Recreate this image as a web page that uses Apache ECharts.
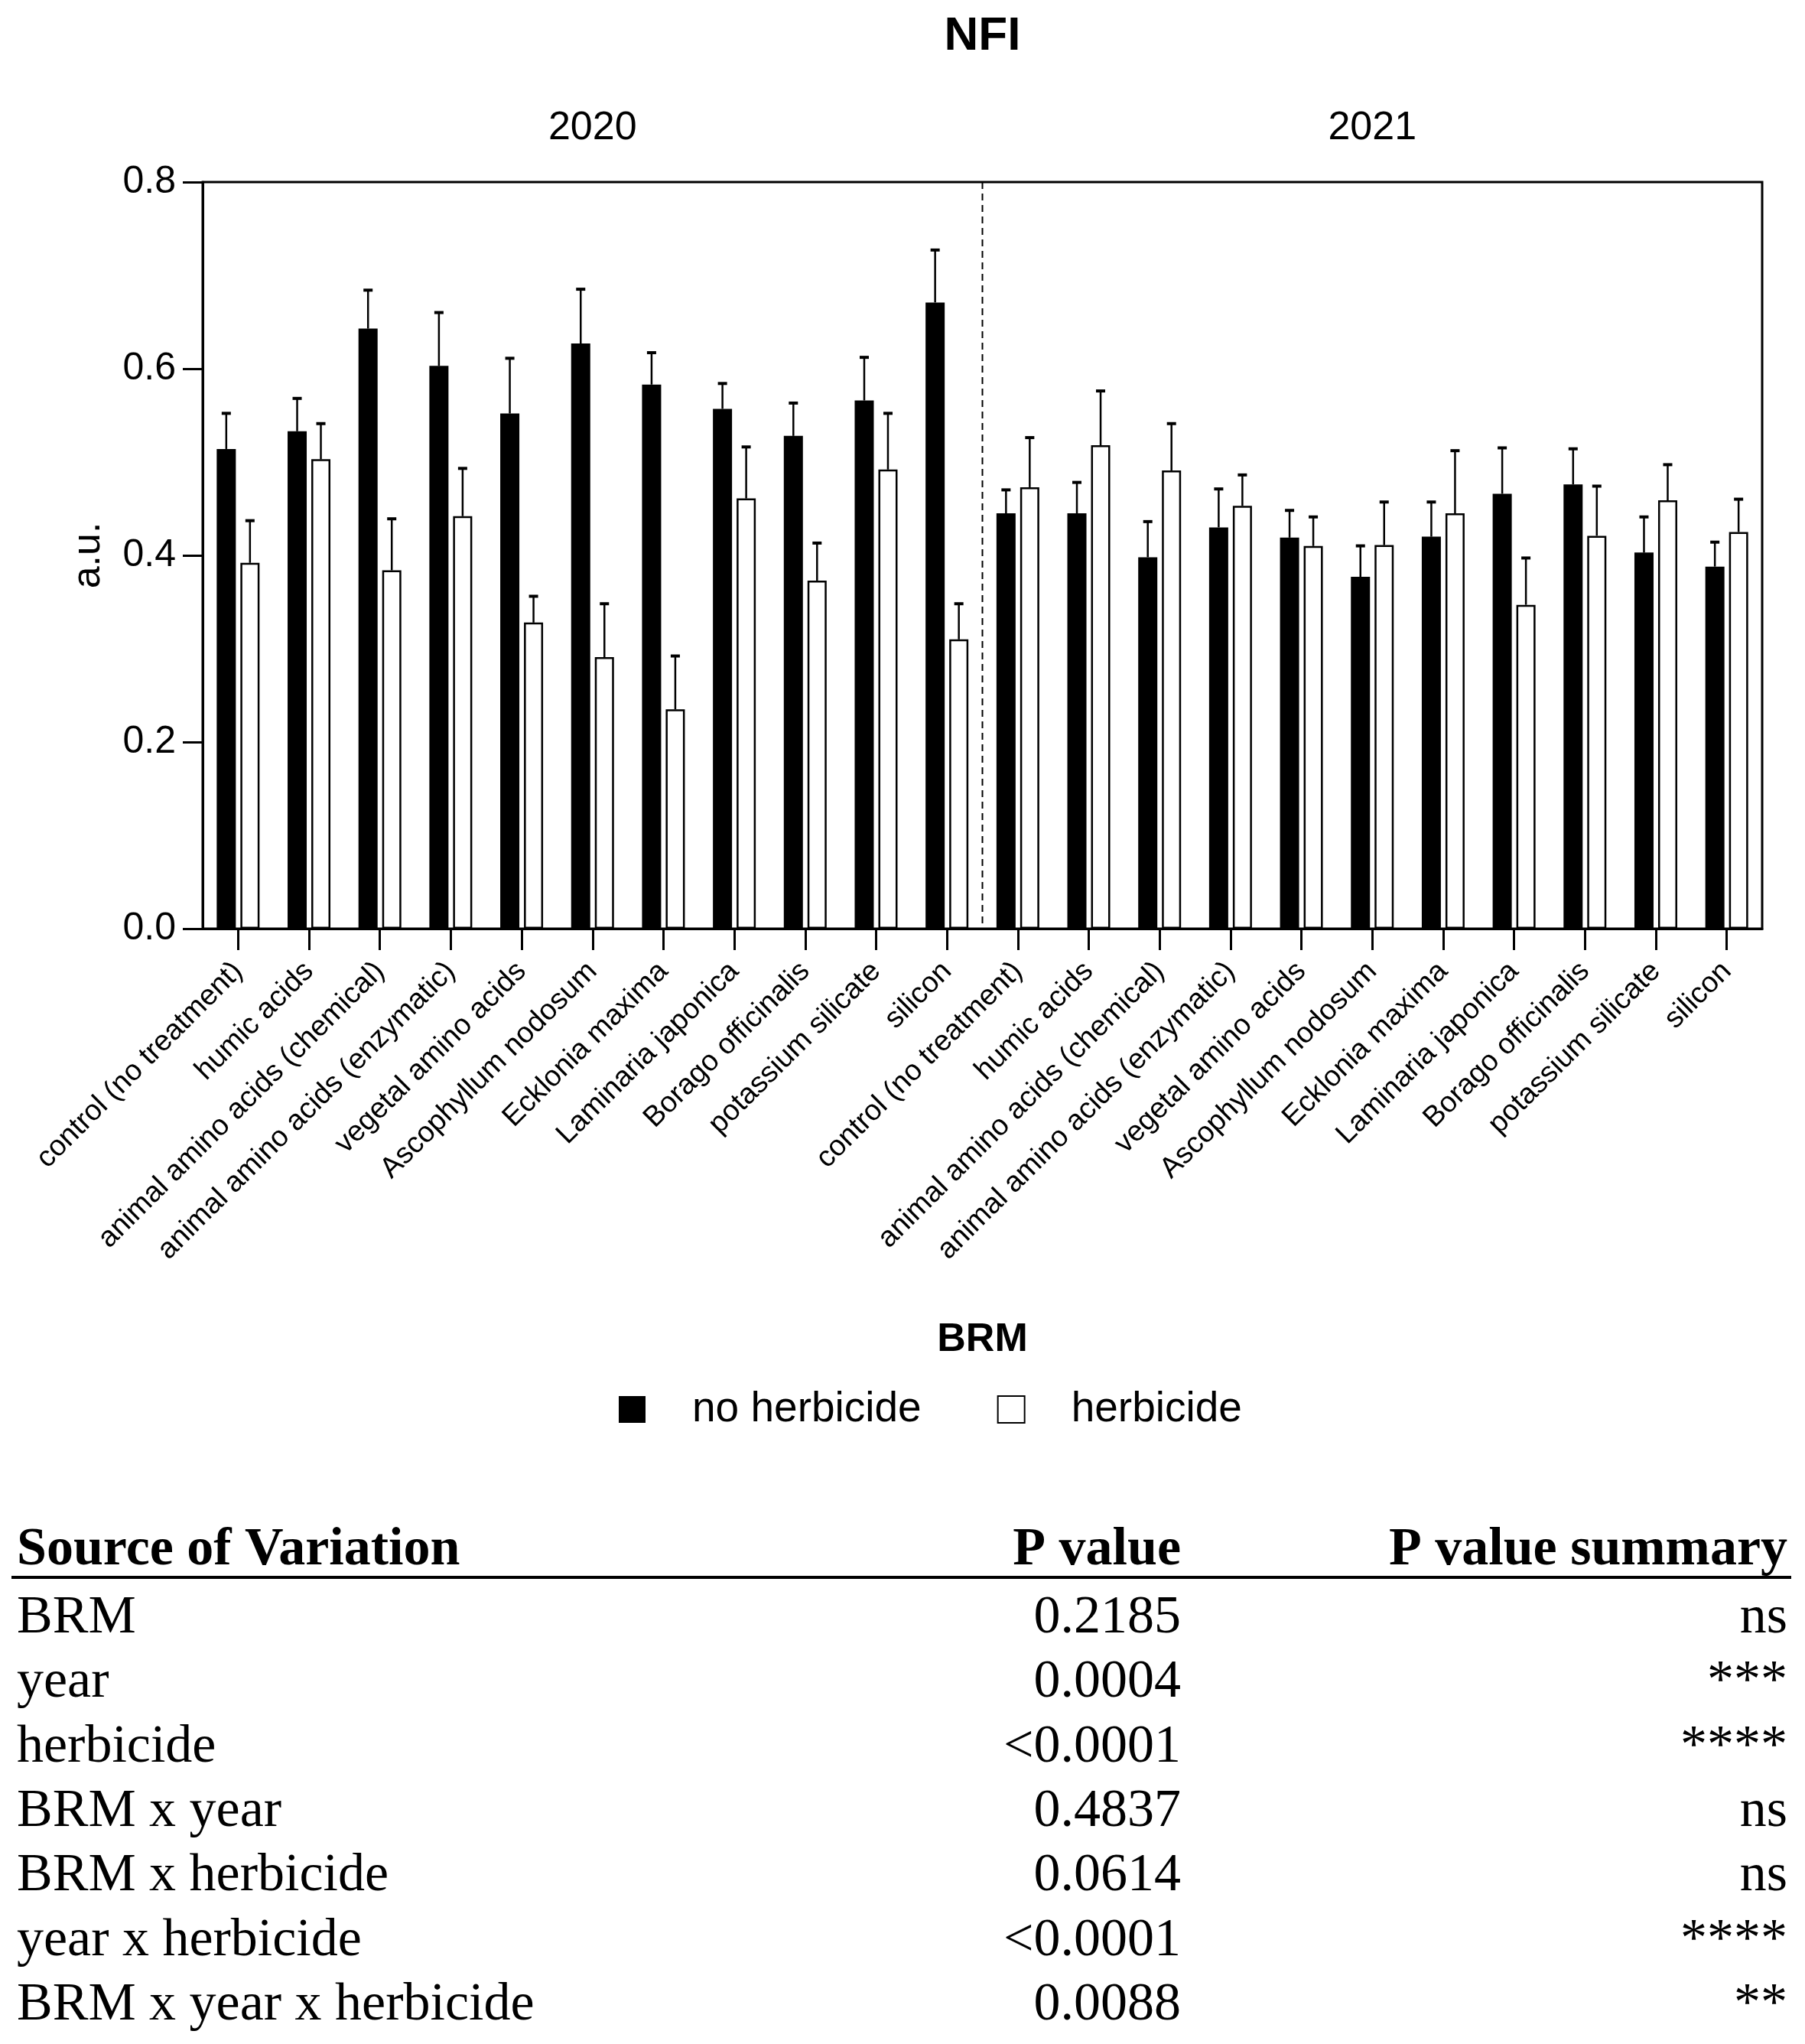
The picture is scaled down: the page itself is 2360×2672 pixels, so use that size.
<!DOCTYPE html>
<html>
<head>
<meta charset="utf-8">
<script src="https://cdn.jsdelivr.net/npm/echarts@6/dist/echarts.min.js"></script>
<style>
html,body{margin:0;padding:0;background:#fff;}
#chart{width:2360px;height:2672px;}
</style>
</head>
<body>
<div id="chart"></div>
<script>
// ---------------- data ----------------
const treatments = ['control (no treatment)', 'humic acids', 'animal amino acids (chemical)',
  'animal amino acids (enzymatic)', 'vegetal amino acids', 'Ascophyllum nodosum', 'Ecklonia maxima',
  'Laminaria japonica', 'Borago officinalis', 'potassium silicate', 'silicon'];
const years = ['2020', '2021'];

const noHerb2020    = [0.514, 0.533, 0.643, 0.603, 0.552, 0.627, 0.583, 0.557, 0.528, 0.566, 0.671];
const noHerbErr2020 = [0.039, 0.036, 0.042, 0.058, 0.060, 0.059, 0.035, 0.028, 0.036, 0.047, 0.057];
const herb2020      = [0.392, 0.503, 0.384, 0.442, 0.328, 0.291, 0.235, 0.461, 0.373, 0.492, 0.310];
const herbErr2020   = [0.046, 0.039, 0.056, 0.052, 0.029, 0.058, 0.058, 0.056, 0.041, 0.061, 0.039];

const noHerb2021    = [0.445, 0.445, 0.398, 0.430, 0.419, 0.377, 0.420, 0.466, 0.476, 0.403, 0.388];
const noHerbErr2021 = [0.026, 0.034, 0.039, 0.042, 0.030, 0.034, 0.038, 0.050, 0.039, 0.039, 0.027];
const herb2021      = [0.473, 0.518, 0.491, 0.453, 0.410, 0.411, 0.445, 0.347, 0.421, 0.459, 0.425];
const herbErr2021   = [0.054, 0.059, 0.051, 0.034, 0.032, 0.047, 0.068, 0.051, 0.054, 0.039, 0.036];

const yMin = 0, yMax = 0.8, yInterval = 0.2;

const tableHeader = ['Source of Variation', 'P value', 'P value summary'];
const sources   = ['BRM', 'year', 'herbicide', 'BRM x year', 'BRM x herbicide', 'year x herbicide', 'BRM x year x herbicide'];
const pValues   = ['0.2185', '0.0004', '<0.0001', '0.4837', '0.0614', '<0.0001', '0.0088'];
const summaries = ['ns', '***', '****', 'ns', 'ns', '****', '**'];

// ---------------- layout / style ----------------
const W = 2360, H = 2672;
const GRID_L = 265, GRID_R_X = 2304, GRID_T = 238, GRID_B_Y = 1214;
const BAR_W = 25, BAR_GAP = 0.24;
const HALF_OFF = (BAR_W + BAR_W * BAR_GAP) / 2;
const SANS = 'Liberation Sans';
const SERIF = 'Liberation Serif';

const catKeys = [];
years.forEach(y => treatments.forEach(t => catKeys.push(y + '|' + t)));

const noHerb = noHerb2020.concat(noHerb2021);
const noHerbErr = noHerbErr2020.concat(noHerbErr2021);
const herb = herb2020.concat(herb2021);
const herbErr = herbErr2020.concat(herbErr2021);

function errData(means, errs) { return means.map((m, i) => [i, m, errs[i]]); }

function errRender(offset) {
  return function (params, api) {
    const x = api.value(0), m = api.value(1), e = api.value(2);
    const b = api.coord([x, m]);
    const t = api.coord([x, m + e]);
    const cx = b[0] + offset;
    return {
      type: 'group',
      children: [
        { type: 'line', shape: { x1: cx, y1: b[1], x2: cx, y2: t[1] }, style: { stroke: '#000', lineWidth: 2.5 } },
        { type: 'rect', shape: { x: cx - 6, y: t[1] - 1, width: 12, height: 4 }, style: { fill: '#000' } }
      ]
    };
  };
}

const centerX = (GRID_L + GRID_R_X) / 2;

// table graphics
const tableEls = [];
const HEAD_BASE = 2051, ROW0_BASE = 2139, ROW_H = 84.4, TFONT = 70;
const MID = 0.3375 * TFONT;
const COL0 = 22, COL1 = 1544, COL2 = 2337;
[[tableHeader[0], COL0, 'left'], [tableHeader[1], COL1, 'right'], [tableHeader[2], COL2, 'right']].forEach(h => {
  tableEls.push({ type: 'text', x: h[1], y: HEAD_BASE - MID, style: { text: h[0], align: h[2], verticalAlign: 'middle', font: 'bold ' + TFONT + 'px "' + SERIF + '"', fill: '#000' } });
});
tableEls.push({ type: 'rect', shape: { x: 15, y: 2060, width: 2327, height: 4 }, style: { fill: '#000' } });
sources.forEach((s, i) => {
  const y = ROW0_BASE + i * ROW_H - MID;
  tableEls.push({ type: 'text', x: COL0, y: y, style: { text: s, align: 'left', verticalAlign: 'middle', font: TFONT + 'px "' + SERIF + '"', fill: '#000' } });
  tableEls.push({ type: 'text', x: COL1, y: y, style: { text: pValues[i], align: 'right', verticalAlign: 'middle', font: TFONT + 'px "' + SERIF + '"', fill: '#000' } });
  tableEls.push({ type: 'text', x: COL2, y: y, style: { text: summaries[i], align: 'right', verticalAlign: 'middle', font: TFONT + 'px "' + SERIF + '"', fill: '#000' } });
});

const chart = echarts.init(document.getElementById('chart'), null, { renderer: 'canvas', width: W, height: H });

const option = {
  backgroundColor: '#fff',
  animation: false,
  title: [
    { text: 'NFI', left: centerX, top: 17, textAlign: 'center',
      textStyle: { fontFamily: SANS, fontWeight: 'bold', fontSize: 62, color: '#000' }, padding: 0 },
    { text: 'BRM', left: centerX, top: 1726, textAlign: 'center',
      textStyle: { fontFamily: SANS, fontWeight: 'bold', fontSize: 52, color: '#000' }, padding: 0 }
  ],
  legend: {
    data: ['no herbicide', 'herbicide'],
    left: 809, top: 1815, padding: 0,
    itemWidth: 35, itemHeight: 35, itemGap: 99,
    icon: 'rect', selectedMode: false,
    textStyle: { fontFamily: SANS, fontSize: 55, color: '#000', padding: [0, 0, 0, 56] }
  },
  grid: {
    left: GRID_L, right: W - GRID_R_X, top: GRID_T, bottom: H - GRID_B_Y,
    show: true, borderColor: '#000', borderWidth: 3, backgroundColor: 'transparent'
  },
  xAxis: [
    {
      type: 'category', data: catKeys, position: 'bottom',
      axisLine: { show: true, lineStyle: { color: '#000', width: 3 } },
      axisTick: { show: true, alignWithLabel: true, length: 28, lineStyle: { color: '#000', width: 3 } },
      axisLabel: { interval: 0, rotate: 45, margin: 50, fontFamily: SANS, fontSize: 38, color: '#000',
        formatter: v => v.split('|')[1] },
      splitLine: { show: false }
    },
    {
      type: 'category', data: years, position: 'top',
      axisLine: { show: false }, axisTick: { show: false },
      axisLabel: { margin: 44, fontFamily: SANS, fontSize: 52, color: '#000' }
    }
  ],
  yAxis: {
    type: 'value', min: yMin, max: yMax, interval: yInterval,
    name: 'a.u.', nameLocation: 'middle', nameGap: 123, nameRotate: 90,
    nameTextStyle: { fontFamily: SANS, fontSize: 52, color: '#000' },
    axisLine: { show: true, lineStyle: { color: '#000', width: 3 } },
    axisTick: { show: true, length: 26, lineStyle: { color: '#000', width: 3 } },
    axisLabel: { margin: 35, fontFamily: SANS, fontSize: 50, color: '#000', formatter: v => v.toFixed(1) },
    splitLine: { show: false }
  },
  series: [
    { name: 'no herbicide', type: 'bar', data: noHerb, barWidth: BAR_W, barGap: (BAR_GAP * 100) + '%',
      itemStyle: { color: '#000' }, z: 2 },
    { name: 'herbicide', type: 'bar', data: herb, barWidth: BAR_W, barGap: (BAR_GAP * 100) + '%',
      itemStyle: { color: '#fff', borderColor: '#000', borderWidth: 2.5 }, z: 2 },
    { type: 'custom', data: errData(noHerb, noHerbErr), renderItem: errRender(-HALF_OFF), z: 3 },
    { type: 'custom', data: errData(herb, herbErr), renderItem: errRender(HALF_OFF), z: 3 },
    { type: 'custom', data: [[treatments.length]], z: 1,
      renderItem: function (params, api) {
        const i = api.value(0);
        const a = api.coord([i - 1, yMin]);
        const b = api.coord([i, yMin]);
        const top = api.coord([i, yMax])[1];
        const x = (a[0] + b[0]) / 2;
        return { type: 'line', shape: { x1: x, y1: top, x2: x, y2: a[1] },
          style: { stroke: '#000', lineWidth: 2, lineDash: [9, 6] } };
      } }
  ],
  graphic: tableEls
};
chart.setOption(option);
</script>
</body>
</html>
